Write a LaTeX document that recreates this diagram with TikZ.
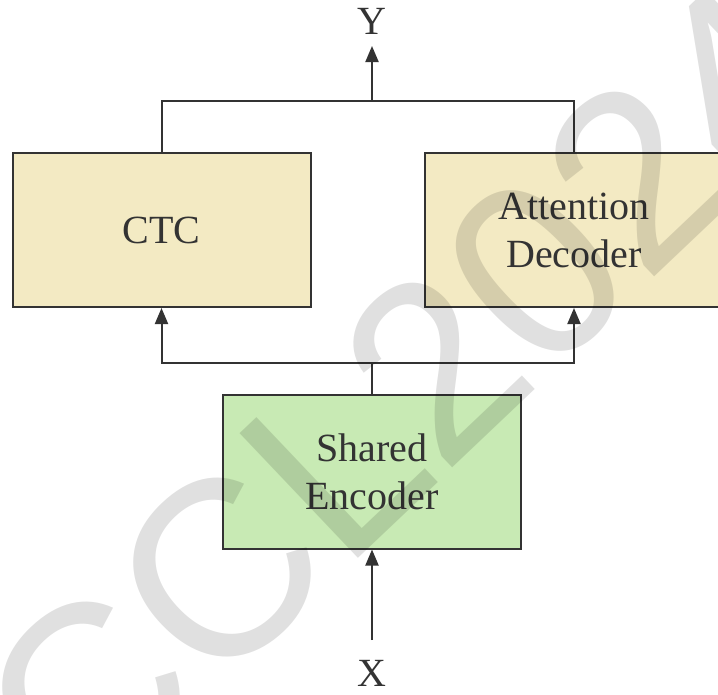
\documentclass[tikz,border=0pt]{standalone}
\usepackage{fontspec}
\setmainfont{Liberation Serif}
\newfontfamily\wmfont{Liberation Sans}
\usetikzlibrary{arrows.meta,positioning}
\definecolor{lineclr}{RGB}{51,51,51}
\definecolor{boxyellow}{RGB}{243,234,195}
\definecolor{boxgreen}{RGB}{200,234,180}
\tikzset{
  block/.style={draw=lineclr, line width=2pt, minimum width=298pt, minimum height=154pt,
    align=center, text=lineclr, font=\fontsize{40}{48}\selectfont},
  wire/.style={draw=lineclr, line width=2pt},
  flow/.style={wire, -{Triangle[length=16pt,width=13pt]}},
  lbl/.style={text=lineclr, font=\fontsize{40}{48}\selectfont, inner sep=0pt}
}
\begin{document}
\begin{tikzpicture}[x=1pt,y=1pt,yscale=-1,xscale=1]
  \useasboundingbox (0,0) rectangle (718,694);
  % Blocks
  \node [block, fill=boxyellow] (ctc) at (161.5,230) {CTC};
  \node [block, fill=boxyellow] (att) at (574,230) {Attention\\Decoder};
  \node [block, fill=boxgreen] (enc) at (372,471.5) {Shared\\Encoder};
  % Input / output
  \node [lbl] (x) at (372,673) {X};
  \node [lbl] (y) at (372,21) {Y};
  \coordinate (split) at (372,363);
  \coordinate (join) at (372,101);
  % Connectors
  \draw [flow] (372,640) -- (enc.south);
  \draw [wire] (enc.north) -- (split);
  \draw [flow] (split) -| (ctc.south);
  \draw [flow] (split) -| (att.south);
  \draw [wire] (ctc.north) |- (join) -| (att.north);
  \draw [flow] (join) -- (372,46);
  % Watermark
  \node [rotate=43.5, text=black, text opacity=0.12, inner sep=0pt,
    font=\wmfont\fontsize{250}{250}\selectfont] (wm) at (405,395) {CCL2024};
\end{tikzpicture}
\end{document}
